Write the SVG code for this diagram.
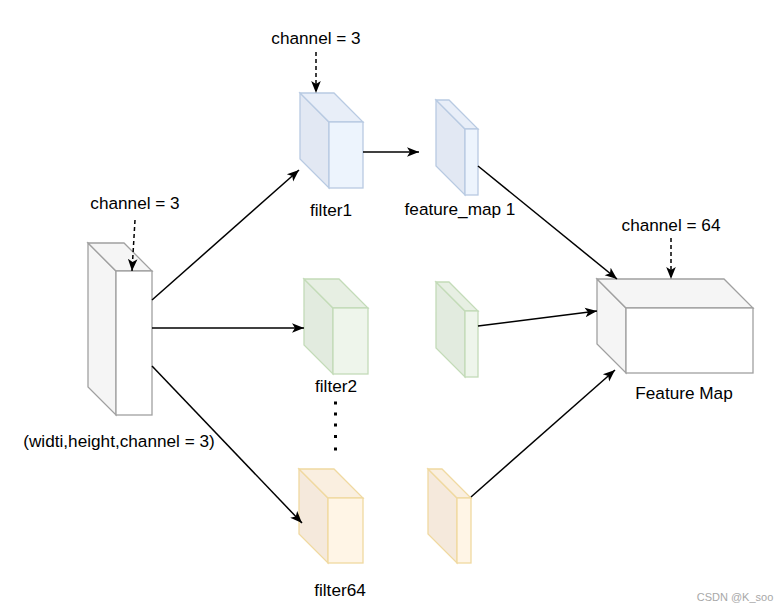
<svg xmlns="http://www.w3.org/2000/svg" width="784" height="612" viewBox="0 0 784 612">
<style>
text{font-family:"Liberation Sans",Arial,sans-serif;font-size:17.2px;fill:#000;text-anchor:middle}
.conn{stroke:#000;stroke-width:1.5;fill:none}
.dash{stroke-dasharray:4 3}
.grey polygon,.grey rect{stroke:#a0a0a0;stroke-width:1.3}
.grey .s,.grey .t{fill:#f5f5f5}.grey .f{fill:#fff}
.blue polygon,.blue rect{stroke:#b8cae2;stroke-width:1.3}
.blue .s{fill:#e2e8f3}.blue .t{fill:#e8eef8}.blue .f{fill:#edf4fd}
.green polygon,.green rect{stroke:#c3dbb8;stroke-width:1.3}
.green .s{fill:#e2ebdf}.green .t{fill:#e7efe3}.green .f{fill:#eef5eb}
.orange polygon,.orange rect{stroke:#f0d9a0;stroke-width:1.3}
.orange .s{fill:#f5e9dc}.orange .t{fill:#faefe0}.orange .f{fill:#fff5e6}
</style>
<defs>
<marker id="ah" viewBox="0 0 10 10" markerUnits="userSpaceOnUse" markerWidth="12" markerHeight="12" refX="10" refY="5" orient="auto">
<path d="M0,1 L10,5 L0,9 L2.5,5 Z" fill="#000"/>
</marker>
</defs>
<rect width="784" height="612" fill="#fff"/>

<g id="input" class="grey">
<polygon class="s" points="88,243 116,271 116,415 88,387"/>
<polygon class="t" points="88,243 124,243 152,271 116,271"/>
<rect class="f" x="116" y="271" width="36" height="144"/>
<text x="119" y="447">(widti,height,channel = 3)</text>
</g>
<g id="filter1" class="blue">
<polygon class="s" points="300,93 329,122 329,188 300,159"/>
<polygon class="t" points="300,93 334,93 363,122 329,122"/>
<rect class="f" x="329" y="122" width="34" height="66"/>
<text x="331" y="216">filter1</text>
</g>
<g id="fm1" class="blue">
<polygon class="s" points="436,100 465,129 465,195 436,166"/>
<polygon class="t" points="436,100 449,100 478,129 465,129"/>
<rect class="f" x="465" y="129" width="13" height="66"/>
<text x="460" y="215">feature_map 1</text>
</g>
<g id="filter2" class="green">
<polygon class="s" points="304,279 333,308 333,374 304,345"/>
<polygon class="t" points="304,279 339,279 368,308 333,308"/>
<rect class="f" x="333" y="308" width="35" height="66"/>
<text x="336" y="392">filter2</text>
</g>
<g id="fm2" class="green">
<polygon class="s" points="436,282 465,311 465,377 436,348"/>
<polygon class="t" points="436,282 449,282 478,311 465,311"/>
<rect class="f" x="465" y="311" width="13" height="66"/>
</g>
<g id="dots" fill="#000">
<rect x="334" y="401.5" width="3" height="3"/>
<rect x="334" y="412.5" width="3" height="3"/>
<rect x="334" y="423.5" width="3" height="3"/>
<rect x="334" y="435" width="3" height="3"/>
<rect x="334" y="447.5" width="3" height="3"/>
</g>
<g id="filter64" class="orange">
<polygon class="s" points="299,469 328,498 328,563 299,534"/>
<polygon class="t" points="299,469 334,469 363,498 328,498"/>
<rect class="f" x="328" y="498" width="35" height="65"/>
<text x="340" y="596">filter64</text>
</g>
<g id="fm64" class="orange">
<polygon class="s" points="428,469 457,498 457,563 428,534"/>
<polygon class="t" points="428,469 442,469 471,498 457,498"/>
<rect class="f" x="457" y="498" width="14" height="65"/>
</g>
<g id="featuremap" class="grey">
<polygon class="s" points="597,279 626,308 626,373 597,344"/>
<polygon class="t" points="597,279 724,279 753,308 626,308"/>
<rect class="f" x="626" y="308" width="127" height="65"/>
<text x="684" y="399">Feature Map</text>
</g>
<g id="labels">
<text x="316" y="44">channel = 3</text>
<text x="135" y="209">channel = 3</text>
<text x="671" y="231">channel = 64</text>
<text x="735" y="601" style="font-size:11px;fill:#a8a8a8">CSDN @K_soo</text>
</g>
<g id="connectors">
<path class="conn dash" d="M316,52 L316,93" marker-end="url(#ah)"/>
<path class="conn dash" d="M135,220 L132,271" marker-end="url(#ah)"/>
<path class="conn dash" d="M671,238 L671,279" marker-end="url(#ah)"/>
<path class="conn" d="M152,300 L299,170" marker-end="url(#ah)"/>
<path class="conn" d="M152,328 L304,328" marker-end="url(#ah)"/>
<path class="conn" d="M152,366 L302,523" marker-end="url(#ah)"/>
<path class="conn" d="M363,152 L419,152" marker-end="url(#ah)"/>
<path class="conn" d="M478,166 L617,279" marker-end="url(#ah)"/>
<path class="conn" d="M478,326 L597,311" marker-end="url(#ah)"/>
<path class="conn" d="M471,497 L615,370" marker-end="url(#ah)"/>
</g>
</svg>
